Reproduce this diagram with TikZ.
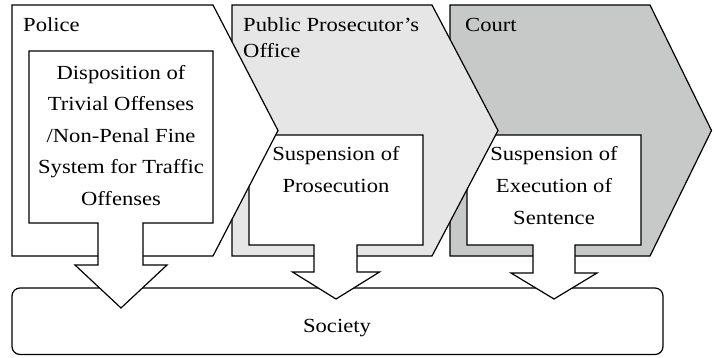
\documentclass[tikz,border=0pt]{standalone}
\usepackage{fontspec}
\setmainfont{Liberation Serif}[FakeStretch=1.13]
\begin{document}
\begin{tikzpicture}[x=1pt,y=-1pt,
  outline/.style={draw=black,line width=1.2pt,line join=miter,miter limit=4},
  stage/.style={outline},
  callout/.style={outline,fill=white},
  society/.style={outline,fill=white,rounded corners=8pt},
  lbl/.style={anchor=base,inner sep=0pt,font=\fontsize{20}{24}\selectfont},
  head/.style={lbl,anchor=base west}]
\useasboundingbox (0,0) rectangle (714,357);
\definecolor{prosfill}{RGB}{230,230,230}
\definecolor{courtfill}{RGB}{199,200,200}

% Society box underneath the arrows
\draw[society] (12,288) rectangle (663,354.5);
\node[lbl] (society) at (337,332) {Society};

% Court stage and its measure
\draw[stage,fill=courtfill] (450,5) -- (650,5) -- (711.5,130.5) -- (650,256) -- (450,256) -- cycle;
\draw[callout] (467,135) -- (641,135) -- (641,245) -- (575,245) -- (575,273) -- (597,273)
  -- (554,299) -- (511,273) -- (533,273) -- (533,245) -- (467,245) -- cycle;
\node[head] (court) at (465,31) {Court};
\node[lbl] (court1) at (554,160.5) {Suspension of};
\node[lbl] (court2) at (554,192) {Execution of};
\node[lbl] (court3) at (554,224) {Sentence};

% Public prosecutor stage and its measure
\draw[stage,fill=prosfill] (232,5) -- (432,5) -- (498,130.5) -- (432,256) -- (232,256) -- cycle;
\draw[callout] (249,135) -- (423,135) -- (423,245) -- (357,245) -- (357,272) -- (379.5,272)
  -- (336,299) -- (292.5,272) -- (314,272) -- (314,245) -- (249,245) -- cycle;
\node[head] (pros1) at (243,31) {Public Prosecutor’s};
\node[head] (pros2) at (243,57) {Office};
\node[lbl] (prosm1) at (336,160.5) {Suspension of};
\node[lbl] (prosm2) at (336,192) {Prosecution};

% Police stage and its measure
\draw[stage,fill=white] (12,5) -- (213,5) -- (278,130.5) -- (213,256) -- (12,256) -- cycle;
\draw[callout] (29,51) -- (213,51) -- (213,223) -- (143,223) -- (143,265) -- (167,265)
  -- (121,308) -- (75,265) -- (98,265) -- (98,223) -- (29,223) -- cycle;
\node[head] (police) at (23,31) {Police};
\node[lbl] (pol1) at (121,79) {Disposition of};
\node[lbl] (pol2) at (121,110.5) {Trivial Offenses};
\node[lbl] (pol3) at (121,142) {/Non-Penal Fine};
\node[lbl] (pol4) at (121,173.5) {System for Traffic};
\node[lbl] (pol5) at (121,205) {Offenses};
\end{tikzpicture}
\end{document}
